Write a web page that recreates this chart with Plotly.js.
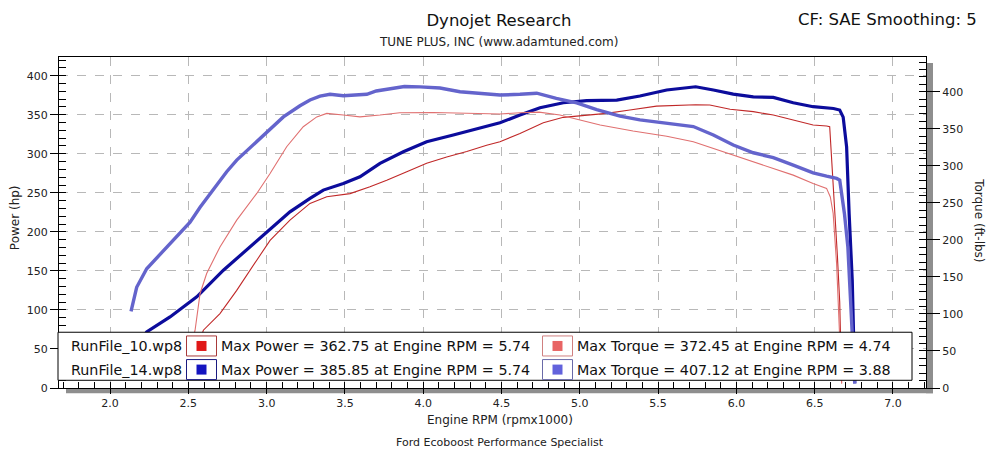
<!DOCTYPE html>
<html><head><meta charset="utf-8">
<script src="https://cdn.plot.ly/plotly-3.0.1.min.js"></script>
<style>html,body{margin:0;padding:0;background:#fff;}#chart{width:1000px;height:450px;}</style>
</head><body><div id="chart"></div>
<script>
// ---- data (Engine RPM x1000) ----
const rpm10Power = [2.53,2.596,2.702,2.809,2.937,3.022,3.149,3.277,3.384,3.533,3.66,3.767,3.895,4.022,4.15,4.278,4.405,4.49,4.618,4.767,4.895,5.0,5.17,5.32,5.49,5.74,5.83,5.96,6.108,6.236,6.363,6.49,6.576,6.596,6.61,6.63,6.645,6.66,6.672];
const power10    = [36,74,95.4,125,163.7,189,215,236.4,245,249,257.7,266,277,288,296,303,311,315.4,326,339.7,346.7,348.3,351.8,356,361,362.75,362.5,357,354,349.6,343,336.8,335.5,334.6,287.7,223.6,170,110,6];

const rpm10Torque = [2.5,2.543,2.575,2.617,2.702,2.809,2.937,3.022,3.128,3.234,3.32,3.384,3.49,3.596,3.724,3.85,4.065,4.19,4.32,4.49,4.618,4.74,4.873,5.0,5.13,5.34,5.555,5.725,5.853,5.98,6.108,6.236,6.363,6.49,6.576,6.6,6.618,6.64,6.655,6.672];
const torque10    = [40,78,127.6,154.6,190.5,226.6,262.7,289.7,325.7,352.7,366,370.8,368.5,366,368.5,371.6,372,371.6,370.8,370,371.6,372.45,368.5,361.8,355,347,340,332.4,323.5,314.5,305.4,296.5,287.4,276,269.5,258,235.7,168,100.5,6];

const rpm14Power = [2.134,2.234,2.383,2.554,2.724,2.894,3.022,3.149,3.277,3.362,3.49,3.596,3.66,3.724,3.873,4.022,4.192,4.32,4.49,4.618,4.746,4.895,5.044,5.236,5.384,5.555,5.74,5.853,5.98,6.108,6.236,6.363,6.49,6.62,6.66,6.682,6.704,6.72,6.74,6.756];
const power14    = [42,71.8,91,116.7,150.9,180.8,202,225.6,242.8,253.5,262,270.5,279,287.7,302.6,315.4,324,330.4,339.7,349.6,359,365.4,368,368.8,374,381.7,385.85,381.7,376.5,373,372.3,365.4,360.3,358,356,347,309,223.6,138,6];

const rpm14Torque = [2.134,2.17,2.234,2.30,2.383,2.447,2.511,2.575,2.639,2.745,2.809,2.851,2.958,3.107,3.213,3.277,3.341,3.405,3.49,3.64,3.70,3.83,3.88,3.98,4.107,4.235,4.34,4.49,4.618,4.725,4.85,4.98,5.108,5.257,5.384,5.555,5.725,5.853,5.98,6.108,6.236,6.363,6.49,6.576,6.64,6.66,6.69,6.712,6.73,6.745,6.756];
const torque14    = [103.6,136,161,176,195,211,224,244,262.7,292,307.7,316,338,366,381,388.8,394,396.5,394.6,396.5,401,406,407.12,406.5,405,400,398,395.5,396.5,398,391,385,376,367,362,358,353,341.5,328,317.6,311,301,290.5,286,283,280.7,235.7,190.5,123,55,6];

const legendNames = ['RunFile_10.wp8','RunFile_14.wp8'];
const maxPower = [362.75,385.85];
const maxPowerRpm = [5.74,5.74];
const maxTorque = [372.45,407.12];
const maxTorqueRpm = [4.74,3.88];

// ---- geometry helpers (pixel -> paper) ----
const L=59, R=926, T=57, B=387.7;
const px = x => (x-L)/(R-L);
const py = y => (B-y)/(B-T);
const FONT = 'DejaVu Sans, Tahoma, sans-serif';

const traces = [
  {x:rpm10Torque, y:torque10, yaxis:'y2', mode:'lines', line:{color:'#e07070', width:1.1}, hoverinfo:'skip'},
  {x:rpm10Power, y:power10, yaxis:'y', mode:'lines', line:{color:'#c02828', width:1.1}, hoverinfo:'skip'},
  {x:rpm14Torque, y:torque14, yaxis:'y2', mode:'lines', line:{color:'#6464cc', width:3.4}, hoverinfo:'skip'},
  {x:rpm14Power, y:power14, yaxis:'y', mode:'lines', line:{color:'#0c0c9c', width:3.2}, hoverinfo:'skip'}
];

const tickFont = {family:FONT, size:11, color:'#222'};
const shapes = [
  // shadow
  {type:'rect', xref:'paper', yref:'paper', x0:px(926), x1:px(933), y0:py(393), y1:py(63), fillcolor:'#8e8e8e', line:{width:0}, layer:'below'},
  {type:'rect', xref:'paper', yref:'paper', x0:px(66), x1:px(933), y0:py(393), y1:py(387.7), fillcolor:'#8e8e8e', line:{width:0}, layer:'below'},
  // legend box
  {type:'rect', xref:'paper', yref:'paper', x0:px(58), x1:px(912), y0:py(380), y1:py(332), fillcolor:'#ffffff', line:{color:'#000', width:1}, layer:'above'}
];
const annotations = [
  {xref:'paper', yref:'paper', x:px(499), y:py(42), text:'TUNE PLUS, INC (www.adamtuned.com)', showarrow:false, xanchor:'center', yanchor:'middle', font:{family:FONT, size:12, color:'#222'}},
  {xref:'paper', yref:'paper', x:px(979), y:py(20), text:'CF: SAE Smoothing: 5', showarrow:false, xanchor:'right', yanchor:'middle', font:{family:FONT, size:16.5, color:'#111'}},
  {xref:'paper', yref:'paper', x:px(500), y:py(420), text:'Engine RPM (rpmx1000)', showarrow:false, xanchor:'center', yanchor:'middle', font:{family:FONT, size:12, color:'#222'}},
  {xref:'paper', yref:'paper', x:px(500), y:py(442), text:'Ford Ecoboost Performance Specialist', showarrow:false, xanchor:'center', yanchor:'middle', font:{family:FONT, size:11, color:'#222'}},
  {xref:'paper', yref:'paper', x:px(15), y:py(218), text:'Power (hp)', textangle:-90, showarrow:false, xanchor:'center', yanchor:'middle', font:{family:FONT, size:12, color:'#222'}},
  {xref:'paper', yref:'paper', x:px(979), y:py(220), text:'Torque (ft-lbs)', textangle:90, showarrow:false, xanchor:'center', yanchor:'middle', font:{family:FONT, size:12, color:'#222'}}
];
const rowY = [345.7, 369.3];
const pColors = [{border:'#a83a3a', fill:'#e01818'}, {border:'#1a1a80', fill:'#1414c0'}];
const tColors = [{border:'#d08080', fill:'#e86464'}, {border:'#6a6aa8', fill:'#6262dc'}];
for (let i=0;i<2;i++){
  const yc = rowY[i];
  annotations.push({xref:'paper', yref:'paper', x:px(69), y:py(yc), text:legendNames[i], showarrow:false, xanchor:'left', yanchor:'middle', font:{family:FONT, size:14.3, color:'#111'}});
  annotations.push({xref:'paper', yref:'paper', x:px(219), y:py(yc), text:'Max Power = '+maxPower[i].toFixed(2)+' at Engine RPM = '+maxPowerRpm[i].toFixed(2), showarrow:false, xanchor:'left', yanchor:'middle', font:{family:FONT, size:14.3, color:'#111'}});
  annotations.push({xref:'paper', yref:'paper', x:px(575), y:py(yc), text:'Max Torque = '+maxTorque[i].toFixed(2)+' at Engine RPM = '+maxTorqueRpm[i].toFixed(2), showarrow:false, xanchor:'left', yanchor:'middle', font:{family:FONT, size:14.3, color:'#111'}});
  // colour boxes
  shapes.push({type:'rect', xref:'paper', yref:'paper', x0:px(186.5), x1:px(216.5), y0:py(yc+10), y1:py(yc-10), fillcolor:'#fff', line:{color:pColors[i].border, width:1}, layer:'above'});
  shapes.push({type:'rect', xref:'paper', yref:'paper', x0:px(196.5), x1:px(206.5), y0:py(yc+5), y1:py(yc-5), fillcolor:pColors[i].fill, line:{width:0}, layer:'above'});
  shapes.push({type:'rect', xref:'paper', yref:'paper', x0:px(542.5), x1:px(572.5), y0:py(yc+10), y1:py(yc-10), fillcolor:'#fff', line:{color:tColors[i].border, width:1}, layer:'above'});
  shapes.push({type:'rect', xref:'paper', yref:'paper', x0:px(552.5), x1:px(562.5), y0:py(yc+5), y1:py(yc-5), fillcolor:tColors[i].fill, line:{width:0}, layer:'above'});
}

const layout = {
  width:1000, height:450,
  margin:{l:L, r:1000-R, t:T, b:450-B, pad:0},
  paper_bgcolor:'#fff', plot_bgcolor:'#fff',
  showlegend:false,
  title:{text:'Dynojet Research', x:0.499, xanchor:'center', y:1-20/450, yanchor:'middle', font:{family:FONT, size:16.5, color:'#111'}},
  font:{family:FONT},
  xaxis:{range:[1.674,7.211], dtick:0.5, tick0:0, tickformat:'.1f', showgrid:true, gridcolor:'#b8b8b8', griddash:'dash', gridwidth:1,
    zeroline:false, showline:true, linecolor:'#000', linewidth:1, mirror:true,
    ticks:'outside', ticklen:5, tickcolor:'#000', tickfont:tickFont,
    minor:{dtick:0.1, tick0:0, ticks:'inside', ticklen:6, tickcolor:'#000', showgrid:false}},
  yaxis:{range:[0,(B-T)/0.78], dtick:50, tick0:0, showgrid:true, gridcolor:'#b8b8b8', griddash:'dash', gridwidth:1,
    zeroline:false, showline:true, linecolor:'#000', linewidth:1, mirror:true,
    ticks:'outside', ticklen:8, tickcolor:'#000', tickfont:tickFont,
    minor:{dtick:10, tick0:0, ticks:'inside', ticklen:7, tickcolor:'#000', showgrid:false}},
  yaxis2:{range:[0,(B-T)/0.74], dtick:50, tick0:0, overlaying:'y', side:'right', showgrid:false,
    zeroline:false, showline:true, linecolor:'#000', linewidth:1,
    ticks:'outside', ticklen:13, tickcolor:'#000', tickfont:tickFont,
    minor:{dtick:10, tick0:0, ticks:'inside', ticklen:7, tickcolor:'#000', showgrid:false}},
  shapes:shapes,
  annotations:annotations
};
Plotly.newPlot('chart', traces, layout, {staticPlot:true, displayModeBar:false});
</script>
</body></html>
